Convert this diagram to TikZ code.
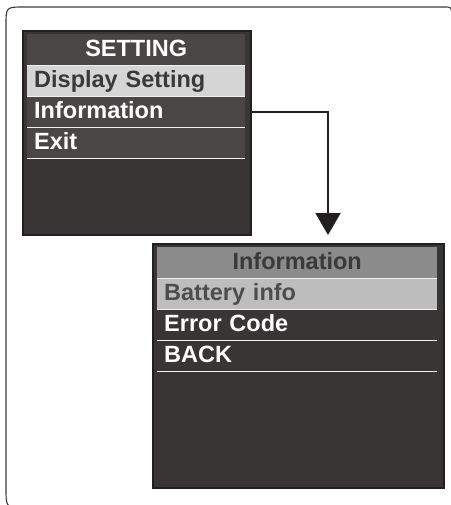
\documentclass[tikz,border=0pt]{standalone}
\usepackage{fontspec}
\setmainfont{Liberation Sans}
\usetikzlibrary{arrows.meta}
\definecolor{frameC}{HTML}{3A3A3A}
\definecolor{boxEdge}{HTML}{231F20}
\definecolor{boxBg}{HTML}{393534}
\definecolor{rowDark}{HTML}{4A4646}
\definecolor{rowLight}{HTML}{D5D5D5}
\definecolor{rowMid}{HTML}{8B8B8B}
\definecolor{rowSel}{HTML}{BDBDBD}
\definecolor{txtDark}{HTML}{3B3838}
\definecolor{txtMid}{HTML}{4F4C4C}
\definecolor{sepC}{HTML}{F2F2F2}
\begin{document}
\begin{tikzpicture}[x=1pt,y=-1pt,
  screen/.style={rectangle, draw=boxEdge, line width=2pt, fill=boxBg, anchor=north west, inner sep=0pt},
  rowbox/.style={rectangle, anchor=north west, inner xsep=7pt, inner ysep=0pt,
    minimum height=31pt, text height=17pt, text depth=3pt,
    font=\fontsize{23.5}{27}\selectfont\bfseries},
  rowA/.style={rowbox, text width=204pt, minimum width=218pt},
  rowB/.style={rowbox, text width=266pt, minimum width=280pt},
  sep/.style={draw=sepC, line width=1.6pt},
  outline/.style={draw=frameC, line width=1.1pt},
  conn/.style={draw=boxEdge, line width=2pt, -{Triangle[length=22pt,width=25pt]}}
]
\useasboundingbox (0,0) rectangle (450,505);
% outer frame (right and bottom edges run off the picture)
\draw[outline] (451.6,60) -- (451.6,15) .. controls (451.6,7) .. (443.6,7)
  -- (24,7) .. controls (6,7) .. (6,25) -- (6,488) .. controls (6,508) .. (26,508);

% ---- SETTING screen
\node[screen, minimum width=228pt, minimum height=204pt] (menuA) at (22,30) {};
\node[rowA, fill=rowDark, text=white, align=center] (rowA1) at (27,34) {SETTING};
\node[rowA, fill=rowLight, text=txtDark, align=left] (rowA2) at (27,65) {Display Setting};
\node[rowA, fill=rowDark, text=white, align=left] (rowA3) at (27,96) {Information};
\node[rowA, fill=rowDark, text=white, align=left] (rowA4) at (27,127) {Exit};
\draw[sep] (rowA1.south west) -- (rowA1.south east);
\draw[sep] (rowA2.south west) -- (rowA2.south east);
\draw[sep] (rowA3.south west) -- (rowA3.south east);
\draw[sep] (rowA4.south west) -- (rowA4.south east);

% ---- Information screen
\node[screen, minimum width=291pt, minimum height=244pt] (menuB) at (152,243) {};
\node[rowB, fill=rowMid, text=txtDark, align=center] (rowB1) at (157,247) {Information};
\node[rowB, fill=rowSel, text=txtMid, align=left] (rowB2) at (157,278) {Battery info};
\node[rowB, text=white, align=left] (rowB3) at (157,309) {Error Code};
\node[rowB, text=white, align=left] (rowB4) at (157,340) {BACK};
\draw[sep] (rowB1.south west) -- (rowB1.south east);
\draw[sep] (rowB2.south west) -- (rowB2.south east);
\draw[sep] (rowB3.south west) -- (rowB3.south east);
\draw[sep] (rowB4.south west) -- (rowB4.south east);

% ---- connector
\coordinate (tip) at (328,235);
\draw[conn] (menuA.east |- rowA3.center) -| (tip);
\end{tikzpicture}
\end{document}
